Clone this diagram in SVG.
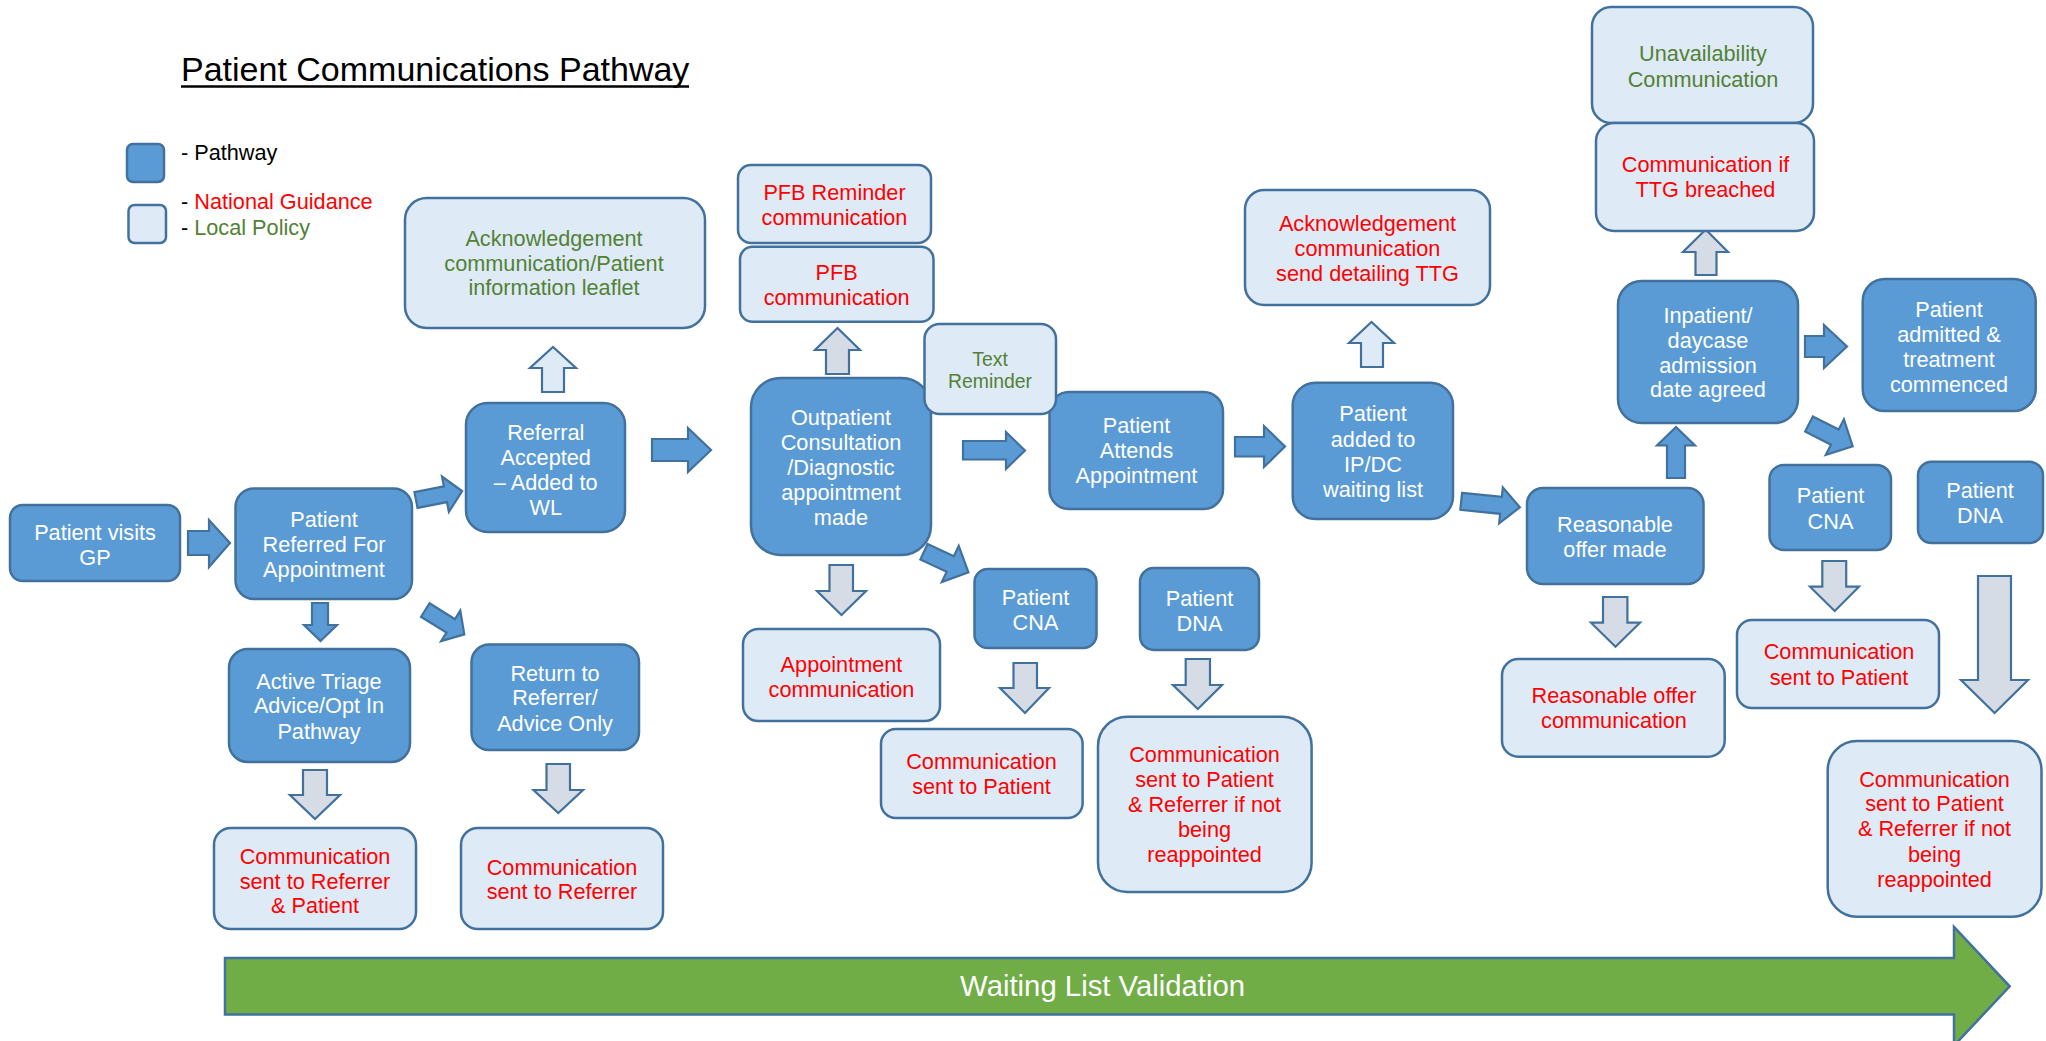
<svg xmlns="http://www.w3.org/2000/svg" width="2046" height="1041" viewBox="0 0 2046 1041">
<style>
text{font-family:"Liberation Sans",Arial,sans-serif;font-size:21.7px;text-anchor:middle}
.p{fill:#5B9BD5;stroke:#41719C;stroke-width:2.5}
.l{fill:#DEEBF7;stroke:#41719C;stroke-width:2.5}
.ab{fill:#5B9BD5;stroke:#41719C;stroke-width:2.2;stroke-linejoin:miter}
.ag{fill:#D6DCE5;stroke:#41719C;stroke-width:2.2;stroke-linejoin:miter}
.al{fill:#DEEBF7;stroke:#41719C;stroke-width:2.2;stroke-linejoin:miter}
.w{fill:#FFFFFF}
.r{fill:#FF0000}
.g{fill:#538135}
.k{fill:#000000}
.s{font-size:19.4px}
.lg{text-anchor:start}
</style>
<defs>
<polygon id="diag" points="0,-8.5 29,-8.5 29,-20 49,0 29,20 29,8.5 0,8.5"/>
</defs>

<g id="title">
<text x="181" y="80.5" class="k lg" style="font-size:34px">Patient Communications Pathway</text>
<line x1="181" y1="86.5" x2="689" y2="86.5" stroke="#000" stroke-width="2.6"/>
</g>

<g id="legend">
<rect class="p" x="127" y="144" width="37" height="38" rx="6"/>
<rect class="l" x="128.5" y="205" width="37.5" height="38" rx="6"/>
<text x="181" y="160" class="k lg">- Pathway</text>
<text x="181" y="209.3" class="lg"><tspan class="k">- </tspan><tspan class="r">National Guidance</tspan></text>
<text x="181" y="234.5" class="lg"><tspan class="k">- </tspan><tspan class="g">Local Policy</tspan></text>
</g>

<g id="connectors">
<polygon class="ab" points="188,531 209,531 209,520 230,543 209,567 209,555 188,555"/>
<polygon class="ab" transform="translate(416,500) rotate(-11)" points="0,-8 30,-8 30,-18 47,0 30,18 30,8 0,8"/>
<polygon class="ab" points="652,439 688,439 688,428 711,450 688,472 688,461 652,461"/>
<polygon class="ab" points="312,603 328,603 328,625 337,625 320.5,641 304,625 312,625"/>
<polygon class="ab" transform="translate(425.3,610) rotate(32)" points="0,-8 30,-8 30,-18 46,0 30,18 30,8 0,8"/>
<polygon class="ab" points="963,441 1006,441 1006,432 1025,450.5 1006,469 1006,459.5 963,459.5"/>
<use href="#diag" class="ab" transform="translate(924,551.7) rotate(25)"/>
<polygon class="ab" points="1235,437 1264,437 1264,426 1285,446.5 1264,467 1264,456.5 1235,456.5"/>
<polygon class="ab" transform="translate(1461.2,501.3) rotate(5.8)" points="0,-8.5 40,-8.5 40,-18 59,0 40,18 40,8.5 0,8.5"/>
<polygon class="ab" points="1667,478 1667,445.5 1657,445.5 1676,427 1695,445.5 1685,445.5 1685,478"/>
<polygon class="ab" points="1805,336 1824,336 1824,325 1847,346.5 1824,368 1824,357 1805,357"/>
<use href="#diag" class="ab" transform="translate(1809,424) rotate(27)"/>
<polygon class="al" points="542,392 542,368 530,368 553,347 576,368 564,368 564,392"/>
<polygon class="al" points="1361,367 1361,343 1349,343 1371.5,322 1394,343 1383,343 1383,367"/>
<polygon class="ag" points="826,374 826,350 815,350 837.5,328 860,350 849,350 849,374"/>
<polygon class="ag" points="829.5,565 853,565 853,591 866,591 841.5,615 817,591 829.5,591"/>
<polygon class="ag" points="303,770 327,770 327,795 340,795 315,819 290,795 303,795"/>
<polygon class="ag" points="546.5,764 570,764 570,790 583,790 558.3,813 533.5,790 546.5,790"/>
<polygon class="ag" points="1013.5,663 1037,663 1037,688 1049,688 1025,713 1000,688 1013.5,688"/>
<polygon class="ag" points="1185.7,659 1210,659 1210,685 1222,685 1197.8,709 1173,685 1185.7,685"/>
<polygon class="ag" points="1695.5,275 1695.5,252 1683,252 1705.7,229.5 1728,252 1716.5,252 1716.5,275"/>
<polygon class="ag" points="1603,597 1627.4,597 1627.4,622.7 1640,622.7 1615.5,646.7 1591,622.7 1603,622.7"/>
<polygon class="ag" points="1822.3,561 1846.2,561 1846.2,586.7 1859,586.7 1834.7,611 1810,586.7 1822.3,586.7"/>
<polygon class="ag" points="1978,576 2011,576 2011,680 2028,680 1994.6,713 1961,680 1978,680"/>
</g>

<g id="n-gp"><rect class="p" x="10" y="505" width="170" height="76" rx="12.7"/>
<text class="w"><tspan x="95" y="539.5">Patient visits</tspan><tspan x="95" y="564.6">GP</tspan></text></g>

<g id="n-referred"><rect class="p" x="235.5" y="488.5" width="176.5" height="110.5" rx="18.4"/>
<text class="w"><tspan x="324" y="527">Patient</tspan><tspan x="324" y="552">Referred For</tspan><tspan x="324" y="577">Appointment</tspan></text></g>

<g id="n-accepted"><rect class="p" x="466" y="403" width="159" height="129" rx="21.5"/>
<text class="w"><tspan x="545.7" y="439.5">Referral</tspan><tspan x="545.7" y="465">Accepted</tspan><tspan x="545.7" y="490">– Added to</tspan><tspan x="545.7" y="515">WL</tspan></text></g>

<g id="n-triage"><rect class="p" x="229" y="649" width="181" height="113" rx="18.8"/>
<text class="w"><tspan x="319" y="688.6">Active Triage</tspan><tspan x="319" y="713">Advice/Opt In</tspan><tspan x="319" y="739">Pathway</tspan></text></g>

<g id="n-return"><rect class="p" x="471.5" y="644.5" width="167.5" height="105.5" rx="17.6"/>
<text class="w"><tspan x="555" y="680.6">Return to</tspan><tspan x="555" y="705.4">Referrer/</tspan><tspan x="555" y="730.6">Advice Only</tspan></text></g>

<g id="n-outpatient"><rect class="p" x="751" y="378" width="180" height="177" rx="29.5"/>
<text class="w"><tspan x="841" y="425">Outpatient</tspan><tspan x="841" y="450">Consultation</tspan><tspan x="841" y="475">/Diagnostic</tspan><tspan x="841" y="500">appointment</tspan><tspan x="841" y="525">made</tspan></text></g>

<g id="n-attends"><rect class="p" x="1049.5" y="392" width="173.5" height="117" rx="19.5"/>
<text class="w"><tspan x="1136.5" y="433">Patient</tspan><tspan x="1136.5" y="458">Attends</tspan><tspan x="1136.5" y="483">Appointment</tspan></text></g>

<g id="n-added"><rect class="p" x="1292.7" y="382.7" width="160.3" height="136.3" rx="22.7"/>
<text class="w"><tspan x="1373" y="420.7">Patient</tspan><tspan x="1373" y="446.7">added to</tspan><tspan x="1373" y="471.7">IP/DC</tspan><tspan x="1373" y="496.7">waiting list</tspan></text></g>

<g id="n-cna1"><rect class="p" x="974.5" y="569" width="122" height="79" rx="13.2"/>
<text class="w"><tspan x="1035.5" y="604.5">Patient</tspan><tspan x="1035.5" y="629.5">CNA</tspan></text></g>

<g id="n-dna1"><rect class="p" x="1140" y="568" width="119" height="82" rx="13.7"/>
<text class="w"><tspan x="1199.5" y="606">Patient</tspan><tspan x="1199.5" y="631">DNA</tspan></text></g>

<g id="n-reasonable"><rect class="p" x="1527" y="488" width="176.5" height="96" rx="16"/>
<text class="w"><tspan x="1615" y="531.7">Reasonable</tspan><tspan x="1615" y="556.7">offer made</tspan></text></g>

<g id="n-inpatient"><rect class="p" x="1618" y="281" width="180" height="142" rx="23.7"/>
<text class="w"><tspan x="1708" y="322.7">Inpatient/</tspan><tspan x="1708" y="347.5">daycase</tspan><tspan x="1708" y="372.5">admission</tspan><tspan x="1708" y="397">date agreed</tspan></text></g>

<g id="n-admitted"><rect class="p" x="1862.7" y="279" width="173" height="132" rx="22"/>
<text class="w"><tspan x="1949" y="316.7">Patient</tspan><tspan x="1949" y="341.7">admitted &amp;</tspan><tspan x="1949" y="366.7">treatment</tspan><tspan x="1949" y="391.7">commenced</tspan></text></g>

<g id="n-cna2"><rect class="p" x="1769.5" y="465" width="121.5" height="85" rx="14.2"/>
<text class="w"><tspan x="1830.5" y="503">Patient</tspan><tspan x="1830.5" y="528.5">CNA</tspan></text></g>

<g id="n-dna2"><rect class="p" x="1918" y="461.7" width="125" height="81.3" rx="13.5"/>
<text class="w"><tspan x="1980" y="498">Patient</tspan><tspan x="1980" y="523">DNA</tspan></text></g>

<g id="c-ack"><rect class="l" x="405" y="198" width="300" height="130" rx="21.7"/>
<text class="g"><tspan x="554" y="246">Acknowledgement</tspan><tspan x="554" y="271">communication/Patient</tspan><tspan x="554" y="295">information leaflet</tspan></text></g>

<g id="c-refpat"><rect class="l" x="214" y="828" width="202" height="101" rx="16.8"/>
<text class="r"><tspan x="315" y="864">Communication</tspan><tspan x="315" y="888.5">sent to Referrer</tspan><tspan x="315" y="913">&amp; Patient</tspan></text></g>

<g id="c-ref"><rect class="l" x="461" y="828" width="202" height="101" rx="16.8"/>
<text class="r"><tspan x="562" y="874.5">Communication</tspan><tspan x="562" y="899">sent to Referrer</tspan></text></g>

<g id="c-pfbrem"><rect class="l" x="738" y="165" width="193" height="78" rx="13"/>
<text class="r"><tspan x="834.5" y="200">PFB Reminder</tspan><tspan x="834.5" y="225">communication</tspan></text></g>

<g id="c-pfb"><rect class="l" x="740" y="246.7" width="193.5" height="75" rx="12.5"/>
<text class="r"><tspan x="836.6" y="280">PFB</tspan><tspan x="836.6" y="305">communication</tspan></text></g>

<g id="c-appt"><rect class="l" x="743" y="629" width="197" height="92" rx="15.3"/>
<text class="r"><tspan x="841.5" y="671.7">Appointment</tspan><tspan x="841.5" y="696.7">communication</tspan></text></g>

<g id="c-pat1"><rect class="l" x="881" y="729" width="201.6" height="89" rx="14.8"/>
<text class="r"><tspan x="981.5" y="769">Communication</tspan><tspan x="981.5" y="794">sent to Patient</tspan></text></g>

<g id="c-patref1"><rect class="l" x="1098" y="716.7" width="213.6" height="175.3" rx="29.2"/>
<text class="r"><tspan x="1204.5" y="761.7">Communication</tspan><tspan x="1204.5" y="786.7">sent to Patient</tspan><tspan x="1204.5" y="811.7">&amp; Referrer if not</tspan><tspan x="1204.5" y="837">being</tspan><tspan x="1204.5" y="862">reappointed</tspan></text></g>

<g id="c-ackttg"><rect class="l" x="1245" y="190" width="245" height="115" rx="19.2"/>
<text class="r"><tspan x="1367.5" y="230.7">Acknowledgement</tspan><tspan x="1367.5" y="256">communication</tspan><tspan x="1367.5" y="280.7">send detailing TTG</tspan></text></g>

<g id="c-unavail"><rect class="l" x="1592" y="7" width="221" height="116" rx="19.3"/>
<text class="g"><tspan x="1703" y="61">Unavailability</tspan><tspan x="1703" y="86.7">Communication</tspan></text></g>

<g id="c-ttg"><rect class="l" x="1596" y="123" width="218" height="108" rx="18"/>
<text class="r"><tspan x="1705.5" y="171.7">Communication if</tspan><tspan x="1705.5" y="197">TTG breached</tspan></text></g>

<g id="c-offer"><rect class="l" x="1502" y="659" width="222.7" height="97.7" rx="16.3"/>
<text class="r"><tspan x="1614" y="703">Reasonable offer</tspan><tspan x="1614" y="728">communication</tspan></text></g>

<g id="c-pat2"><rect class="l" x="1737" y="620" width="202" height="88" rx="14.7"/>
<text class="r"><tspan x="1839" y="659">Communication</tspan><tspan x="1839" y="685">sent to Patient</tspan></text></g>

<g id="c-patref2"><rect class="l" x="1827.7" y="741" width="213.8" height="175.7" rx="29.3"/>
<text class="r"><tspan x="1934.5" y="786.7">Communication</tspan><tspan x="1934.5" y="811">sent to Patient</tspan><tspan x="1934.5" y="836">&amp; Referrer if not</tspan><tspan x="1934.5" y="861.7">being</tspan><tspan x="1934.5" y="886.7">reappointed</tspan></text></g>

<g id="c-textrem"><rect class="l" x="924.5" y="324" width="131.5" height="90" rx="15"/>
<text class="g s"><tspan x="990" y="366">Text</tspan><tspan x="990" y="387.5">Reminder</tspan></text></g>

<g id="wlv">
<polygon points="225,958 1954,958 1954,927 2009.7,986.3 1954,1045.6 1954,1014.5 225,1014.5" fill="#70AD47" stroke="#41719C" stroke-width="2.5"/>
<text x="1102.6" y="996" class="w" style="font-size:29.3px">Waiting List Validation</text>
</g>
</svg>
